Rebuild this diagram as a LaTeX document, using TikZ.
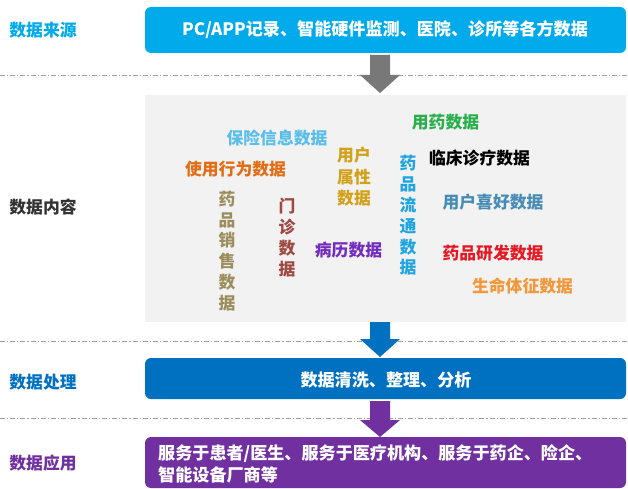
\documentclass[tikz,border=0pt]{standalone}
\usepackage{fontspec}
\setmainfont{Noto Sans CJK SC}
\usetikzlibrary{positioning}
\definecolor{cyanb}{RGB}{0,170,235}
\definecolor{procb}{RGB}{0,112,192}
\definecolor{appp}{RGB}{112,48,160}
\definecolor{panelg}{RGB}{242,242,242}
\definecolor{arrg}{RGB}{120,120,120}
\definecolor{sepg}{RGB}{160,160,160}
\definecolor{cGreen}{RGB}{40,175,75}
\definecolor{cSky}{RGB}{90,190,235}
\definecolor{cOrange}{RGB}{228,108,20}
\definecolor{cGold}{RGB}{210,160,25}
\definecolor{cFlow}{RGB}{30,165,225}
\definecolor{cSteel}{RGB}{70,140,180}
\definecolor{cRed}{RGB}{228,25,35}
\definecolor{cLOrange}{RGB}{242,152,58}
\definecolor{cPurple}{RGB}{115,45,190}
\definecolor{cBrown}{RGB}{160,72,66}
\definecolor{cKhaki}{RGB}{155,142,92}
\begin{document}
\begin{tikzpicture}[x=1pt,y=-1pt,
  lbl/.style={font=\fontsize{16.8}{18}\selectfont\bfseries, inner sep=0pt, anchor=center},
  boxtxt/.style={font=\fontsize{17.1}{22}\selectfont\bfseries, text=white, inner sep=0pt},
  word/.style={font=\fontsize{16.8}{18}\selectfont\bfseries, inner sep=0pt, anchor=center},
  vword/.style={font=\fontsize{16.8}{20.8}\selectfont\bfseries, inner sep=0pt, align=center, anchor=center},
  sep/.style={draw=sepg, line width=0.8pt, dash pattern=on 5pt off 2pt on 1.2pt off 2pt},
  blk/.style={rounded corners=6pt}
]
\useasboundingbox (0,0) rectangle (628,489);

% separators
\coordinate (s1a) at (0,75); \coordinate (s1b) at (628,75);
\coordinate (s2a) at (0,341); \coordinate (s2b) at (628,341);
\coordinate (s3a) at (0,418); \coordinate (s3b) at (628,418);
\draw[sep] (s1a) -- (s1b);
\draw[sep] (s2a) -- (s2b);
\draw[sep] (s3a) -- (s3b);

% boxes
\fill[cyanb, blk] (145,7) rectangle (626,53);
\node[boxtxt] (src) at (385,30) {PC/APP记录、智能硬件监测、医院、诊所等各方数据};
\fill[panelg] (145,95) rectangle (626,322);
\fill[procb, blk] (145,358) rectangle (626,399);
\node[boxtxt] (proc) at (386,380) {数据清洗、整理、分析};
\fill[appp, blk] (145,437) rectangle (626,488);
\node[boxtxt, anchor=west, align=left, font=\fontsize{17.1}{22}\selectfont\bfseries] (app) at (158,463.5) {服务于患者/医生、服务于医疗机构、服务于药企、险企、\\智能设备厂商等};

% block arrows
\fill[arrg] (370,55) -- (390,55) -- (390,75) -- (400,75) -- (380,93) -- (360,75) -- (370,75) -- cycle;
\fill[procb] (370,322) -- (390,322) -- (390,339) -- (400,339) -- (380,357) -- (360,339) -- (370,339) -- cycle;
\fill[appp] (370,401) -- (390,401) -- (390,420) -- (400,420) -- (380,437) -- (360,420) -- (370,420) -- cycle;

% left labels
\node[lbl, text=cyanb] (l1) at (43,30) {数据来源};
\node[lbl, text=black!80] (l2) at (43,207) {数据内容};
\node[lbl, text=procb] (l3) at (43,382) {数据处理};
\node[lbl, text=appp] (l4) at (43,463) {数据应用};

% content words
\node[word, text=cGreen] (w1) at (445.5,122) {用药数据};
\node[word, text=cSky] (w2) at (277,138) {保险信息数据};
\node[word, text=cOrange] (w3) at (235.5,169) {使用行为数据};
\node[vword, text=cGold, font=\fontsize{16.8}{21.5}\selectfont\bfseries] (w4) at (354,177) {用户\\属性\\数据};
\node[vword, text=cFlow] (w5) at (408,215.5) {药\\品\\流\\通\\数\\据};
\node[word, text=black] (w6) at (479.5,158) {临床诊疗数据};
\node[word, text=cSteel] (w7) at (493,202) {用户喜好数据};
\node[word, text=cRed] (w8) at (493,253) {药品研发数据};
\node[word, text=cLOrange] (w9) at (522.5,286) {生命体征数据};
\node[word, text=cPurple] (w10) at (348.5,250) {病历数据};
\node[vword, text=cBrown] (w11) at (287,237.5) {门\\诊\\数\\据};
\node[vword, text=cKhaki] (w12) at (227,251) {药\\品\\销\\售\\数\\据};
\end{tikzpicture}
\end{document}
